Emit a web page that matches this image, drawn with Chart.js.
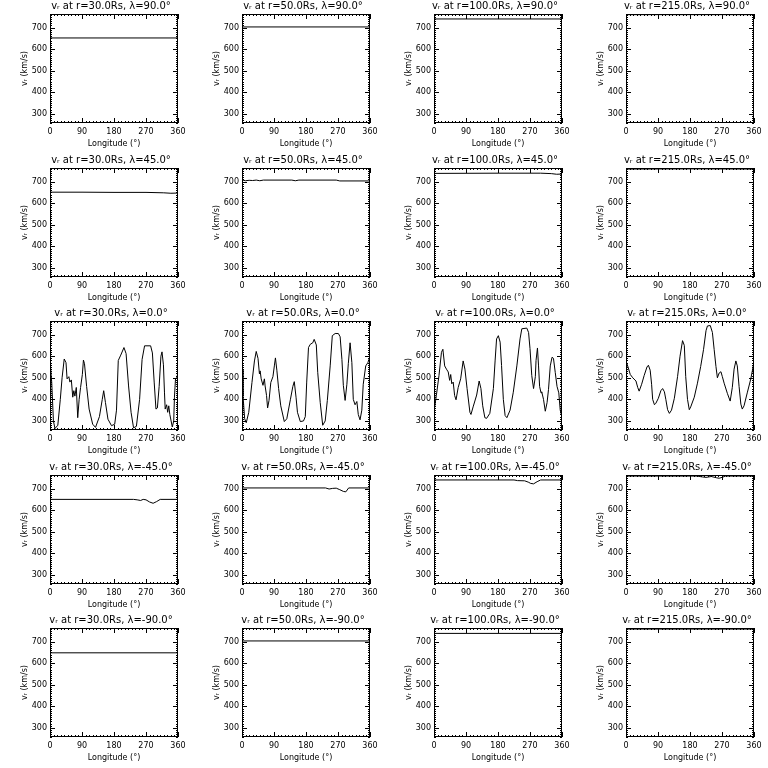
<!DOCTYPE html>
<html>
<head>
<meta charset="utf-8">
<script src="https://cdn.jsdelivr.net/npm/chart.js@4/dist/chart.umd.min.js"></script>
<style>
  html, body { margin: 0; padding: 0; background: #fff; }
  #grid { position: relative; width: 768px; height: 768px; }
  .cell { position: absolute; width: 192px; height: 154px; }
</style>
</head>
<body>
<div id="grid"></div>
<script>
// ── DATA ─────────────────────────────────────────────────────────────
const radii = ["30.0", "50.0", "100.0", "215.0"]
const lats = ["90.0", "45.0", "0.0", "-45.0", "-90.0"]
const lonTicks = [0, 90, 180, 270, 360]
const vTicks = [300, 400, 500, 600, 700]
const vMin = 258, vMax = 763

// flat rows (poles)
const lonFlat = [0, 360]
const vN90_30 = [652, 652]
const vN90_50 = [703, 703]
const vN90_100 = [740, 740]
const vN90_215 = [760, 760]
const vS90_30 = [648, 648]
const vS90_50 = [703, 703]
const vS90_100 = [738, 738]
const vS90_215 = [758, 758]

// lambda = 45
const lonN45_30 = [0, 90, 180, 270, 320, 340, 360]
const vN45_30 = [651, 651, 650, 650, 648, 646, 647]
const lonN45_50 = [0, 5, 10, 20, 30, 40, 50, 60, 90, 140, 150, 160, 265, 275, 360]
const vN45_50 = [700, 706, 704, 706, 705, 707, 704, 707, 707, 707, 704, 707, 707, 703, 703]
const lonN45_100 = [0, 180, 300, 330, 345, 360]
const vN45_100 = [738, 739, 739, 737, 734, 735]
const lonN45_215 = [0, 200, 360]
const vN45_215 = [758, 759, 758]

// lambda = 0
const lonEq30 = [0, 4.8, 9.6, 14, 22, 29, 34, 40, 45, 48, 53, 56, 60, 64, 67, 70, 74, 78, 82, 86,
  91, 94, 97, 103, 110, 120, 128, 139, 147, 151, 156, 163, 173, 182, 187, 192, 199, 208, 214, 221,
  228, 235, 243, 252, 259, 266, 283, 288, 293, 298, 302, 307, 312, 315, 319, 322, 324, 328, 331, 334,
  337, 344, 348, 350, 353, 357, 360]
const vEq30 = [578, 480, 300, 265, 280, 400, 500, 587, 570, 495, 505, 480, 490, 410, 440, 415, 455, 315, 400, 455,
  515, 582, 565, 460, 355, 285, 270, 320, 400, 440, 385, 308, 278, 285, 350, 580, 605, 640, 612, 462,
  340, 268, 275, 400, 585, 648, 648, 615, 480, 355, 360, 460, 600, 620, 560, 430, 355, 375, 340, 370,
  330, 272, 300, 410, 495, 500, 530]

const lonEq50 = [0, 2.8, 7.5, 12, 19, 28, 35, 40, 45, 49, 51, 54, 59, 63, 65, 69, 72, 76, 81, 87,
  91, 94, 98, 103, 109, 119, 126, 136, 143, 147, 152, 156, 164, 173, 178, 182, 187, 192, 199, 203,
  209, 213, 220, 227, 234, 240, 248, 254, 262, 271, 276, 281, 285, 290, 295, 299, 304, 309, 313, 318,
  323, 327, 332, 337, 341, 348, 354, 360]
const vEq50 = [540, 418, 310, 292, 340, 478, 578, 622, 590, 518, 532, 495, 465, 495, 462, 418, 360, 395, 478, 505,
  555, 592, 535, 450, 370, 297, 310, 398, 460, 482, 410, 340, 297, 300, 320, 480, 640, 655, 662, 678,
  652, 525, 385, 280, 300, 395, 555, 695, 705, 705, 690, 585, 465, 395, 470, 565, 662, 570, 400, 375,
  390, 330, 305, 350, 470, 555, 570, 598]

const lonEq100 = [0, 6.6, 14, 21, 25, 30, 35, 40, 44, 47, 50, 54, 58, 62, 68, 75, 82, 87, 93, 101,
  104, 110, 120, 127, 132, 137, 143, 148, 157, 167, 172, 176, 181, 186, 190, 195, 200, 205, 214, 223,
  233, 242, 247, 261, 266, 270, 275, 280, 285, 287, 291, 294, 297, 301, 303, 308, 313, 318, 322, 327,
  332, 336, 341, 346, 351, 355, 360]
const vEq100 = [345, 418, 510, 618, 632, 555, 540, 527, 488, 515, 472, 480, 418, 398, 455, 495, 578, 540, 450, 340,
  330, 365, 420, 485, 450, 370, 315, 312, 335, 450, 582, 680, 695, 665, 557, 400, 325, 315, 350, 433,
  555, 680, 727, 730, 710, 635, 510, 450, 505, 580, 638, 555, 460, 430, 435, 400, 345, 385, 445, 555,
  595, 590, 525, 460, 430, 350, 320]

const lonEq215 = [0, 4.7, 12, 19, 28, 33, 37, 44, 51, 59, 63, 68, 72, 75, 80, 84, 91, 98, 103, 108,
  112, 117, 122, 128, 136, 145, 152, 159, 164, 168, 173, 178, 182, 192, 201, 210, 218, 225, 229, 237,
  243, 248, 253, 257, 262, 267, 271, 276, 285, 293, 299, 304, 309, 313, 318, 323, 327, 332, 341, 351,
  358, 360]
const vEq215 = [578, 555, 515, 500, 485, 455, 438, 470, 510, 550, 558, 535, 470, 400, 375, 382, 405, 440, 450, 435,
  400, 352, 335, 350, 405, 505, 600, 672, 650, 505, 400, 352, 365, 410, 475, 552, 630, 718, 740, 742,
  710, 630, 552, 500, 522, 528, 505, 475, 428, 392, 455, 540, 578, 555, 460, 378, 355, 370, 430, 495,
  555, 578]

// lambda = -45
const lonS45_30 = [0, 235, 245, 255, 262, 270, 280, 290, 300, 310, 360]
const vS45_30 = [650, 650, 648, 645, 650, 648, 638, 632, 640, 650, 650]
const lonS45_50 = [0, 235, 245, 255, 265, 275, 285, 292, 300, 360]
const vS45_50 = [703, 703, 698, 701, 702, 695, 687, 685, 703, 703]
const lonS45_100 = [0, 225, 235, 255, 265, 272, 280, 290, 300, 360]
const vS45_100 = [740, 740, 737, 736, 730, 724, 722, 732, 740, 740]
const lonS45_215 = [0, 200, 215, 225, 240, 255, 262, 270, 280, 360]
const vS45_215 = [758, 758, 754, 752, 756, 750, 748, 752, 758, 758]

const panels = [
  [[lonFlat, vN90_30], [lonFlat, vN90_50], [lonFlat, vN90_100], [lonFlat, vN90_215]],
  [[lonN45_30, vN45_30], [lonN45_50, vN45_50], [lonN45_100, vN45_100], [lonN45_215, vN45_215]],
  [[lonEq30, vEq30], [lonEq50, vEq50], [lonEq100, vEq100], [lonEq215, vEq215]],
  [[lonS45_30, vS45_30], [lonS45_50, vS45_50], [lonS45_100, vS45_100], [lonS45_215, vS45_215]],
  [[lonFlat, vS90_30], [lonFlat, vS90_50], [lonFlat, vS90_100], [lonFlat, vS90_215]]
]

// ── FRAME / TICKS / TITLE ────────────────────────────────────────────
const FONT = "DejaVu Sans"

const frame = {
  id: "frame",
  afterDraw(chart, args, opts) {
    const { ctx, chartArea: a, scales: { x, y } } = chart
    ctx.save()
    ctx.strokeStyle = "#000"
    ctx.lineWidth = 1
    ctx.strokeRect(a.left + 0.5, a.top + 0.5, a.right - a.left - 1, a.bottom - a.top - 1)
    ctx.beginPath()
    for (let v = 0; v <= 360; v += 10) {
      const px = Math.round(x.getPixelForValue(v)) + 0.5
      const len = v % 90 === 0 ? 5 : 2
      ctx.moveTo(px, a.bottom); ctx.lineTo(px, a.bottom - len)
      ctx.moveTo(px, a.top); ctx.lineTo(px, a.top + len)
    }
    for (let v = 260; v <= 760; v += 10) {
      const py = Math.round(y.getPixelForValue(v)) + 0.5
      const len = v % 100 === 0 ? 5 : 2
      ctx.moveTo(a.left, py); ctx.lineTo(a.left + len, py)
      ctx.moveTo(a.right, py); ctx.lineTo(a.right - len, py)
    }
    ctx.stroke()
    ctx.fillStyle = "#000"
    ctx.font = "10px '" + FONT + "'"
    ctx.textAlign = "center"
    ctx.textBaseline = "middle"
    ctx.fillText(opts.text, (a.left + a.right) / 2 - 3, 6)
    ctx.restore()
  }
}

// ── BUILD GRID ───────────────────────────────────────────────────────
const grid = document.getElementById("grid")
const tickFont = { family: FONT, size: 8 }

lats.forEach((lat, r) => {
  radii.forEach((rad, c) => {
    const [lon, v] = panels[r][c]
    const cell = document.createElement("div")
    cell.className = "cell"
    cell.style.left = (c * 192) + "px"
    cell.style.top = Math.round(r * 153.6) + "px"
    const cv = document.createElement("canvas")
    cv.width = 192
    cv.height = 154
    cell.appendChild(cv)
    grid.appendChild(cell)

    new Chart(cv, {
      type: "line",
      data: {
        datasets: [{
          data: lon.map((x, i) => ({ x, y: v[i] })),
          borderColor: "#000",
          borderWidth: 1,
          pointRadius: 0,
          tension: 0,
          fill: false
        }]
      },
      options: {
        responsive: false,
        animation: false,
        layout: { padding: { top: 14, right: 14, left: 0, bottom: 0 } },
        plugins: {
          legend: { display: false },
          tooltip: { enabled: false },
          frame: { text: "vᵣ at r=" + rad + "Rs, λ=" + lat + "°" }
        },
        scales: {
          x: {
            type: "linear", min: 0, max: 360,
            afterBuildTicks: s => { s.ticks = lonTicks.map(t => ({ value: t })) },
            afterFit: s => { s.height = 31 },
            grid: { display: false, drawTicks: false },
            border: { display: false },
            ticks: { font: tickFont, color: "#000", padding: 4, maxRotation: 0, autoSkip: false },
            title: { display: true, text: "Longitude (°)", font: tickFont, color: "#000", padding: { top: 0, bottom: 5.5 } }
          },
          y: {
            type: "linear", min: vMin, max: vMax,
            afterBuildTicks: s => { s.ticks = vTicks.map(t => ({ value: t })) },
            afterFit: s => { s.width = 50 },
            grid: { display: false, drawTicks: false },
            border: { display: false },
            ticks: { font: tickFont, color: "#000", padding: 3, autoSkip: false },
            title: { display: true, text: "vᵣ (km/s)", font: tickFont, color: "#000", padding: { top: 20, bottom: 0 } }
          }
        }
      },
      plugins: [frame]
    })
  })
})
</script>
</body>
</html>
